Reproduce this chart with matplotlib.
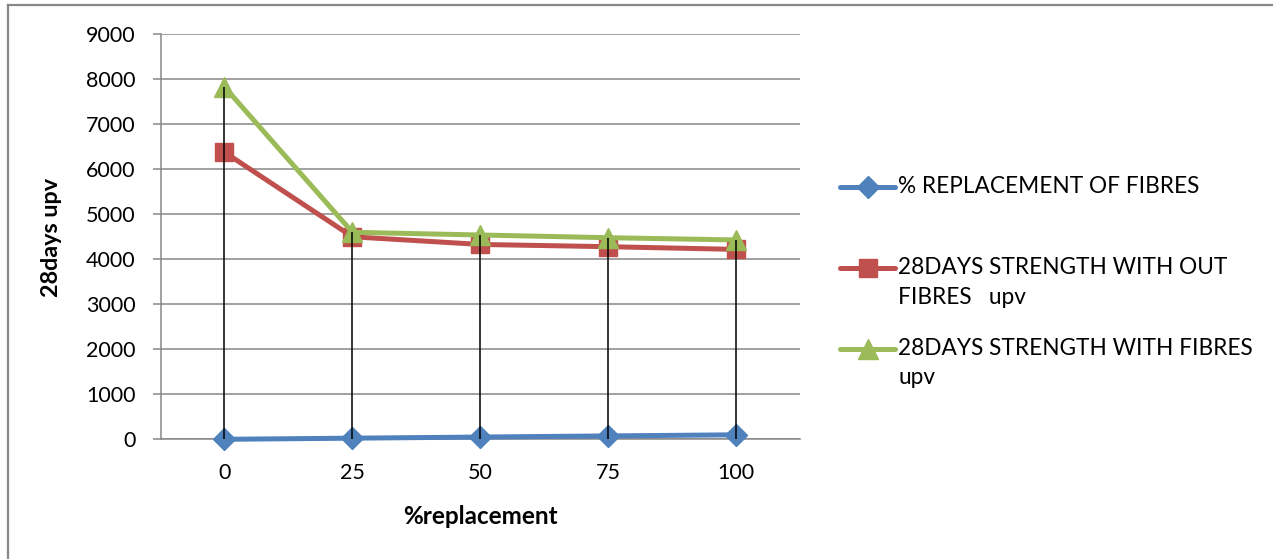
import matplotlib
matplotlib.use("Agg")
import matplotlib.pyplot as plt
from matplotlib.lines import Line2D
import numpy as np

plt.rcParams['font.family'] = ['Lato', 'DejaVu Sans']

# Data
categories = ["0", "25", "50", "75", "100"]
replacement = [0, 25, 50, 75, 100]
strength_without_fibres = [6380, 4500, 4330, 4280, 4220]
strength_with_fibres = [7830, 4600, 4540, 4480, 4430]

series_labels = [
    "% REPLACEMENT OF FIBRES",
    "28DAYS STRENGTH WITH OUT\nFIBRES   upv",
    "28DAYS STRENGTH WITH FIBRES\nupv",
]
y_ticks = [0, 1000, 2000, 3000, 4000, 5000, 6000, 7000, 8000, 9000]

W, H = 1273, 559
fig = plt.figure(figsize=(W / 100, H / 100), dpi=100)

# Outer chart border (left and top edges visible)
fig.add_artist(Line2D([8 / W, 8 / W], [0, 1 - 5 / H], transform=fig.transFigure,
                      color="#878787", lw=1.6))
fig.add_artist(Line2D([8 / W, 1272 / W], [1 - 5 / H, 1 - 5 / H], transform=fig.transFigure,
                      color="#878787", lw=1.6))

left, right = 160.5, 800.3
top, bottom = 34.3, 439.3
ax = fig.add_axes([left / W, 1 - bottom / H, (right - left) / W, (bottom - top) / H])

x = np.arange(len(categories))
styles = [
    dict(color="#4F81BD", marker="D", ms=11),
    dict(color="#C0504D", marker="s", ms=13),
    dict(color="#9BBB59", marker="^", ms=14),
]
series = [replacement, strength_without_fibres, strength_with_fibres]

for vals, st in zip(series, styles):
    ax.plot(x, vals, color=st["color"], lw=3.6, marker=st["marker"],
            ms=st["ms"], mfc=st["color"], mec=st["color"], zorder=3,
            solid_capstyle="round", clip_on=False)

# Drop lines from highest point down to the category axis
tops = np.maximum.reduce([np.array(s) for s in series])
ax.vlines(x, 0, tops, color="black", lw=1.1, zorder=4)

ax.set_xlim(-0.5, len(categories) - 0.5)
ax.set_ylim(0, 9000)
ax.set_yticks(y_ticks)
ax.set_yticklabels([str(v) for v in y_ticks])
ax.set_xticks(x)
ax.set_xticklabels(categories)
ax.yaxis.grid(True, color="#878787", lw=1.1)
ax.set_axisbelow(True)

for s in ["top", "right"]:
    ax.spines[s].set_visible(False)
for s in ["left", "bottom"]:
    ax.spines[s].set_color("#878787")
    ax.spines[s].set_linewidth(1.1)

ax.tick_params(axis="y", length=6, width=1.1, color="#878787", pad=12,
               labelsize=15.5, labelcolor="black")
ax.tick_params(axis="x", length=0, pad=17, labelsize=15.5, labelcolor="black")

fig.text(480 / W, 1 - 516 / H, "%replacement", ha="center", va="center",
         fontsize=17.5, fontweight="bold")
fig.text(52 / W, 1 - 237 / H, "28days upv", ha="center", va="center",
         rotation=90, fontsize=16.8, fontweight="bold")

# Legend: handle aligned with first text line
legend_y = [187, 268, 349]
for lab, st, yy in zip(series_labels, styles, legend_y):
    yf = 1 - yy / H
    fig.add_artist(Line2D([840 / W, 895 / W], [yf, yf], transform=fig.transFigure,
                          color=st["color"], lw=3.6, solid_capstyle="round"))
    fig.add_artist(Line2D([867.5 / W], [yf], transform=fig.transFigure,
                          color=st["color"], marker=st["marker"], ms=st["ms"],
                          mfc=st["color"], mec=st["color"], lw=0))
    fig.text(898 / W, 1 - (yy - 11) / H, lab, ha="left", va="top",
             fontsize=16.3, linespacing=1.5)

fig.savefig("out.png", dpi=100)
